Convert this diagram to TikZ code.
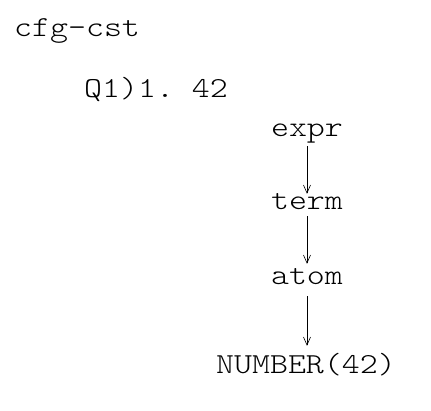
\documentclass[tikz,border=0pt]{standalone}
\usepackage{fontspec}
\setmonofont{lmmonolt10-regular.otf}[FakeStretch=1.18]
\usetikzlibrary{arrows.meta}

\begin{document}
\begin{tikzpicture}[
    x=1bp, y=-1bp,
    word/.style={font=\ttfamily\fontsize{29bp}{35bp}\selectfont, inner sep=0pt,
      text height=15bp, text depth=7bp},
    arrow/.style={-{Straight Barb[length=8bp,width=7bp]}, line width=0.6bp}
]
\useasboundingbox (0,0) rectangle (431,411);
\node[word, anchor=base west] (title) at (14,36) {cfg-cst};
\node[word, anchor=base west] (question) at (84,97) {Q1)1. 42};

\node[word, anchor=base] (expr) at (307,136) {expr};
\node[word, anchor=base] (term) at (307,209) {term};
\node[word, anchor=base] (atom) at (307,284) {atom};
\node[word, anchor=base] (number) at (306,373) {NUMBER(42)};

\draw[arrow, shorten <=3bp] (expr) -- (term);
\draw[arrow, shorten >=5bp] (term) -- (atom);
\draw[arrow, shorten <=5bp, shorten >=12bp] (atom) -- (number.north -| atom);
\end{tikzpicture}
\end{document}
